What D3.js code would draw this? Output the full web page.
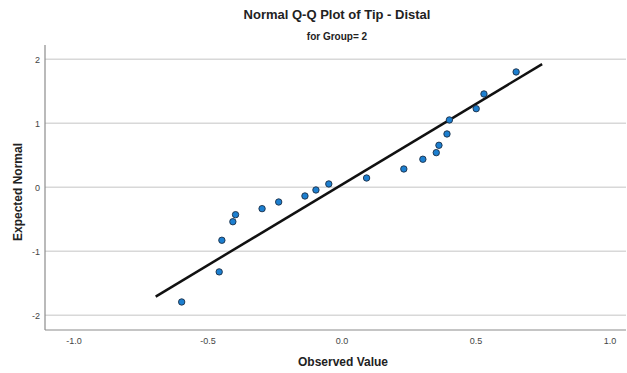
<!DOCTYPE html>
<html>
<head>
<meta charset="utf-8">
<script src="https://cdn.jsdelivr.net/npm/d3@7"></script>
<style>
  html, body { margin: 0; padding: 0; background: #fff; }
  svg { display: block; font-family: "Liberation Sans", Arial, sans-serif; }
</style>
</head>
<body>
<svg id="chart" width="627" height="373"></svg>
<script>
// Observed values of Tip - Distal (Group 2) and their expected normal scores
const observed = [-0.596, -0.456, -0.446, -0.405, -0.395, -0.296, -0.234, -0.136, -0.095, -0.047,
                  0.094, 0.233, 0.304, 0.354, 0.364, 0.394, 0.403, 0.503, 0.532, 0.652];
const expected = [-1.792, -1.322, -0.828, -0.538, -0.428, -0.334, -0.230, -0.136, -0.042, 0.052,
                  0.145, 0.286, 0.438, 0.541, 0.656, 0.833, 1.052, 1.228, 1.458, 1.802];

// Reference line: expected = (observed - mean) / sd, drawn across this span
const refMean = -0.015;
const refSd = 0.397;
const refSpan = [-0.693, 0.749];

const xTicks = [-1.0, -0.5, 0.0, 0.5, 1.0];
const yTicks = [-2, -1, 0, 1, 2];

// Plain hyphen-minus for negative tick labels
const locale = d3.formatLocale({ decimal: ".", thousands: ",", grouping: [3], currency: ["", ""], minus: "-" });

const svg = d3.select("#chart");
const plot = { left: 45, right: 626, top: 45, bottom: 330 };

const x = d3.scaleLinear().domain([-1.106, 1.062]).range([plot.left, plot.right]);
const y = d3.scaleLinear().domain([-2.23, 2.223]).range([plot.bottom, plot.top]);

// Titles
svg.append("text").attr("x", 337).attr("y", 19).attr("text-anchor", "middle")
  .attr("font-size", 13).attr("font-weight", "bold").attr("fill", "#222")
  .text("Normal Q-Q Plot of Tip - Distal");
svg.append("text").attr("x", 337).attr("y", 40).attr("text-anchor", "middle")
  .attr("font-size", 10).attr("font-weight", "bold").attr("fill", "#222")
  .text("for Group= 2");

// Horizontal grid lines
svg.append("g").selectAll("line").data(yTicks).join("line")
  .attr("x1", plot.left).attr("x2", plot.right)
  .attr("y1", d => y(d)).attr("y2", d => y(d))
  .attr("stroke", "#d8d8d8").attr("stroke-width", 1.5);

// Axes
const xAxis = d3.axisBottom(x).tickValues(xTicks).tickFormat(locale.format(".1f")).tickSize(0).tickPadding(8);
const yAxis = d3.axisLeft(y).tickValues(yTicks).tickFormat(locale.format("d")).tickSize(0).tickPadding(5);

const gx = svg.append("g").attr("transform", `translate(0,${plot.bottom})`).call(xAxis);
const gy = svg.append("g").attr("transform", `translate(${plot.left},0)`).call(yAxis);
[gx, gy].forEach(g => {
  g.select(".domain").remove();
  g.selectAll("text").attr("font-size", 9).attr("fill", "#444")
    .attr("font-family", "'Liberation Sans', Arial, sans-serif");
});

// Axis frame lines
svg.append("line").attr("x1", plot.left).attr("x2", plot.right)
  .attr("y1", plot.bottom).attr("y2", plot.bottom)
  .attr("stroke", "#8c8c8c").attr("stroke-width", 1.2);
svg.append("line").attr("x1", plot.left).attr("x2", plot.left)
  .attr("y1", plot.top).attr("y2", plot.bottom)
  .attr("stroke", "#8c8c8c").attr("stroke-width", 1.2);

// Axis titles
svg.append("text").attr("x", 343).attr("y", 366).attr("text-anchor", "middle")
  .attr("font-size", 12).attr("font-weight", "bold").attr("fill", "#222")
  .text("Observed Value");
svg.append("text").attr("transform", "translate(22,192) rotate(-90)").attr("text-anchor", "middle")
  .attr("font-size", 12).attr("font-weight", "bold").attr("fill", "#222")
  .text("Expected Normal");

// Reference line
svg.append("line")
  .attr("x1", x(refSpan[0])).attr("y1", y((refSpan[0] - refMean) / refSd))
  .attr("x2", x(refSpan[1])).attr("y2", y((refSpan[1] - refMean) / refSd))
  .attr("stroke", "#111").attr("stroke-width", 2.5);

// Data points
svg.append("g").selectAll("circle").data(observed).join("circle")
  .attr("cx", d => x(d))
  .attr("cy", (d, i) => y(expected[i]))
  .attr("r", 3.2)
  .attr("fill", "#1c7fd0")
  .attr("stroke", "#1d2f45")
  .attr("stroke-width", 0.9);
</script>
</body>
</html>
